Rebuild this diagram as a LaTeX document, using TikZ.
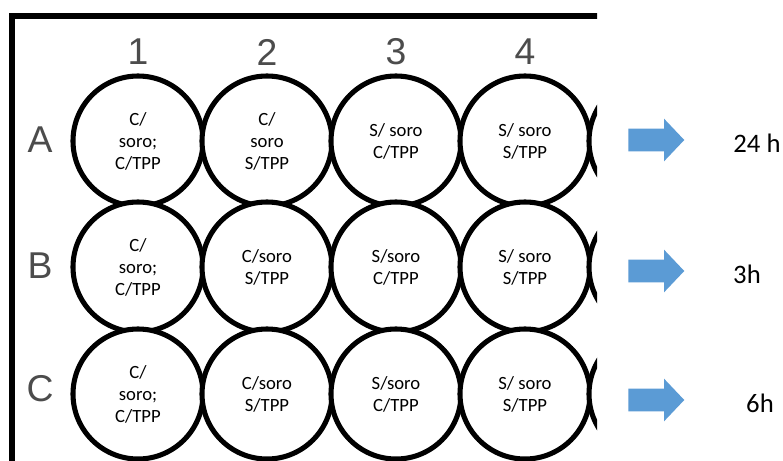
\documentclass[tikz,border=0pt]{standalone}
\usepackage{fontspec}
\setmainfont{Carlito}
\newfontfamily\platefont{Liberation Sans}
\usetikzlibrary{shapes.arrows}
\definecolor{arrowblue}{RGB}{91,155,213}

\begin{document}
\begin{tikzpicture}[x=0.75pt,y=-0.75pt,
		well/.style={circle,draw=black,line width=3.8pt,fill=white,minimum size=97.5pt,inner sep=0pt,align=center,font=\fontsize{14}{16.5}\selectfont},
		platelabel/.style={text=black!70,font=\platefont\fontsize{28}{30}\selectfont},
		timearrow/.style={single arrow,fill=arrowblue,draw=none,anchor=tail,minimum height=42pt,minimum width=31.5pt,inner sep=0pt,inner ysep=8.25pt,single arrow head extend=7.5pt,single arrow tip angle=93},
		timelabel/.style={font=\fontsize{20}{22}\selectfont}]
		\useasboundingbox[fill=white] (0,0) rectangle (783,461);
		\begin{scope}
		\clip (0,0) rectangle (597,461);
		% plate frame
		\draw[line width=4.5pt] (620,16) -- (11.5,16) -- (11.5,480);
		% column and row labels
		\node[platelabel] (c1) at (138,52) {1}; \node[platelabel] (c2) at (267,52) {2}; \node[platelabel] (c3) at (396,52) {3}; \node[platelabel] (c4) at (525,52) {4};
		\node[platelabel] (rA) at (40,140) {A}; \node[platelabel] (rB) at (40,266) {B}; \node[platelabel] (rC) at (40,389) {C};
		% row A
		\node[well] (A1) at (138,141) {C/\\soro;\\C/TPP}; \node[well] (A2) at (267,141) {C/\\soro\\S/TPP}; \node[well] (A3) at (396,141) {S/ soro\\C/TPP}; \node[well] (A4) at (525,141) {S/ soro\\S/TPP}; \node[well] (A5) at (654,141) {};
		% row B
		\node[well] (B1) at (138,267) {C/\\soro;\\C/TPP}; \node[well] (B2) at (267,267) {C/soro\\S/TPP}; \node[well] (B3) at (396,267) {S/soro\\C/TPP}; \node[well] (B4) at (525,267) {S/ soro\\S/TPP}; \node[well] (B5) at (654,267) {};
		% row C
		\node[well] (C1) at (138,394) {C/\\soro;\\C/TPP}; \node[well] (C2) at (267,394) {C/soro\\S/TPP}; \node[well] (C3) at (396,394) {S/soro\\C/TPP}; \node[well] (C4) at (525,394) {S/ soro\\S/TPP}; \node[well] (C5) at (654,394) {};
		\end{scope}
		% times
		\node[timearrow] (arrA) at (628,140) {}; \node[timelabel] (tA) at (757,143) {24 h};
		\node[timearrow] (arrB) at (628,271) {}; \node[timelabel] (tB) at (747,274) {3h};
		\node[timearrow] (arrC) at (628,400) {}; \node[timelabel] (tC) at (760,403) {6h};
	\end{tikzpicture}
\end{document}
